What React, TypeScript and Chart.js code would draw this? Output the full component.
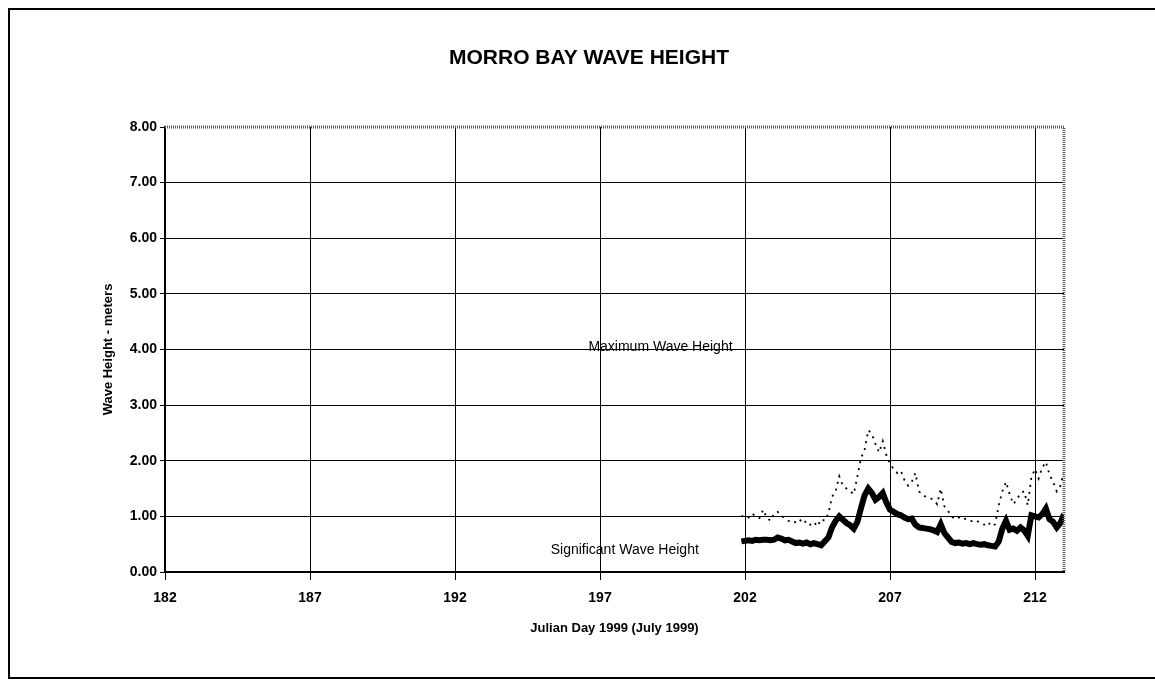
import React, { useEffect, useRef } from "react";
import { Chart, registerables } from "chart.js";

Chart.register(...registerables);

const TITLE = "MORRO BAY WAVE HEIGHT";
const X_TITLE = "Julian Day 1999 (July 1999)";
const Y_TITLE = "Wave Height - meters";
const MAX_LABEL = "Maximum Wave Height";
const SIG_LABEL = "Significant Wave Height";

const X_TICKS = [182, 187, 192, 197, 202, 207, 212];
const Y_TICKS = [0, 1, 2, 3, 4, 5, 6, 7, 8];

const days = [
  201.875,
  202, 202.125, 202.25, 202.375, 202.5, 202.625, 202.75, 202.875,
  203, 203.125, 203.25, 203.375, 203.5, 203.625, 203.75, 203.875,
  204, 204.125, 204.25, 204.375, 204.5, 204.625, 204.75, 204.875,
  205, 205.125, 205.25, 205.375, 205.5, 205.625, 205.75, 205.875,
  206, 206.125, 206.25, 206.375, 206.5, 206.625, 206.75, 206.875,
  207, 207.125, 207.25, 207.375, 207.5, 207.625, 207.75, 207.875,
  208, 208.125, 208.25, 208.375, 208.5, 208.625, 208.75, 208.875,
  209, 209.125, 209.25, 209.375, 209.5, 209.625, 209.75, 209.875,
  210, 210.125, 210.25, 210.375, 210.5, 210.625, 210.75, 210.875,
  211, 211.125, 211.25, 211.375, 211.5, 211.625, 211.75, 211.875,
  212, 212.125, 212.25, 212.375, 212.5, 212.625, 212.75, 212.875,
  213,
];

const significantHeight = [
  0.55,
  0.56, 0.57, 0.56, 0.58, 0.57, 0.58, 0.58, 0.57,
  0.58, 0.62, 0.6, 0.57, 0.58, 0.55, 0.52, 0.53,
  0.51, 0.53, 0.5, 0.52, 0.5, 0.48, 0.55, 0.62,
  0.8, 0.92, 1.0, 0.94, 0.88, 0.84, 0.78, 0.9,
  1.15, 1.38, 1.5, 1.42, 1.3, 1.35, 1.42, 1.25,
  1.12, 1.08, 1.04, 1.02, 0.98, 0.95, 0.96, 0.85,
  0.8, 0.79, 0.78, 0.77, 0.75, 0.72, 0.86, 0.7,
  0.62, 0.54, 0.52, 0.53, 0.51, 0.52, 0.5, 0.52,
  0.5, 0.49, 0.5, 0.48, 0.47, 0.46, 0.55, 0.78,
  0.92, 0.76, 0.78, 0.74, 0.8, 0.75, 0.65, 1.02,
  1.0, 0.98, 1.04, 1.14, 0.95, 0.9, 0.8, 0.88,
  1.04,
];

const maximumHeight = [
  1.0,
  1.02, 0.98, 1.05, 1.0, 0.97, 1.12, 0.98, 0.92,
  1.05, 1.08, 1.02, 0.96, 0.92, 0.88, 0.9, 0.95,
  0.87, 0.92, 0.85, 0.9, 0.82, 0.95, 0.92, 1.05,
  1.35, 1.45, 1.72, 1.55, 1.5, 1.45, 1.4, 1.72,
  2.05, 2.2, 2.55, 2.48, 2.3, 2.15, 2.35, 2.1,
  1.95, 1.85, 1.78, 1.82, 1.65, 1.55, 1.62, 1.78,
  1.45, 1.38, 1.35, 1.33, 1.3, 1.22, 1.5, 1.18,
  1.1, 1.0, 0.95, 0.98, 0.94, 0.96, 0.93, 0.9,
  0.92, 0.88, 0.85, 0.9, 0.82, 0.86, 1.2, 1.45,
  1.62, 1.4, 1.22, 1.3, 1.42, 1.45, 1.2, 1.7,
  1.85, 1.68, 1.88, 1.98, 1.75, 1.62, 1.45, 1.55,
  1.8,
];

// label anchor positions in data units
const MAX_LABEL_AT = { x: 196.6, y: 3.98 };
const SIG_LABEL_AT = { x: 195.3, y: 0.32 };

const FONT = '"Liberation Sans", Arial, Helvetica, sans-serif';

const decorPlugin = {
  id: "decor",
  beforeDraw(chart: any) {
    const { ctx, width, height } = chart;
    ctx.save();
    ctx.fillStyle = "#ffffff";
    ctx.fillRect(0, 0, width, height);
    ctx.restore();
  },
  afterDraw(chart: any) {
    const { ctx, chartArea, scales } = chart;
    const { left, top, right, bottom } = chartArea;
    ctx.save();
    // top / right plot border (grey hatched)
    ctx.strokeStyle = "#5a5a5a";
    ctx.lineWidth = 3;
    ctx.setLineDash([1, 1]);
    ctx.beginPath();
    ctx.moveTo(left, top);
    ctx.lineTo(right, top);
    ctx.lineTo(right, bottom);
    ctx.stroke();
    ctx.setLineDash([]);
    // outer frame
    ctx.strokeStyle = "#000";
    ctx.lineWidth = 2;
    ctx.beginPath();
    ctx.moveTo(1155, 9);
    ctx.lineTo(9, 9);
    ctx.lineTo(9, 678);
    ctx.lineTo(1155, 678);
    ctx.stroke();
    // title
    ctx.fillStyle = "#000";
    ctx.font = `bold 21px ${FONT}`;
    ctx.textAlign = "center";
    ctx.textBaseline = "alphabetic";
    ctx.fillText(TITLE, 589, 64);
    // series labels
    ctx.font = `14px ${FONT}`;
    ctx.textAlign = "left";
    const xs = scales.x;
    const ys = scales.y;
    ctx.fillText(MAX_LABEL, xs.getPixelForValue(MAX_LABEL_AT.x), ys.getPixelForValue(MAX_LABEL_AT.y));
    ctx.fillText(SIG_LABEL, xs.getPixelForValue(SIG_LABEL_AT.x), ys.getPixelForValue(SIG_LABEL_AT.y));
    ctx.restore();
  },
};

export default function App() {
  const canvasRef = useRef<HTMLCanvasElement | null>(null);

  useEffect(() => {
    const canvas = canvasRef.current;
    if (!canvas) return;
    const sigData = days.map((d, i) => ({ x: d, y: significantHeight[i] }));
    const maxData = days.map((d, i) => ({ x: d, y: maximumHeight[i] }));

    const chart = new Chart(canvas, {
      type: "line",
      data: {
        datasets: [
          {
            label: MAX_LABEL,
            data: maxData,
            borderColor: "#000",
            borderWidth: 1.8,
            borderDash: [2, 5],
            pointRadius: 0,
            fill: false,
            tension: 0,
          },
          {
            label: SIG_LABEL,
            data: sigData,
            borderColor: "#000",
            borderWidth: 6,
            pointRadius: 0,
            fill: false,
            tension: 0,
          },
        ],
      },
      options: {
        animation: false,
        responsive: false,
        devicePixelRatio: 1,
        layout: { padding: { left: 100, top: 127, right: 91, bottom: 0 } },
        plugins: {
          legend: { display: false },
          title: { display: false },
          tooltip: { enabled: false },
        },
        scales: {
          x: {
            type: "linear",
            min: 182,
            max: 213,
            afterBuildTicks: (scale: any) => {
              scale.ticks = X_TICKS.map((v) => ({ value: v }));
            },
            afterFit: (scale: any) => {
              scale.height = 108;
            },
            ticks: {
              color: "#000",
              font: { family: FONT, size: 14, weight: "bold" },
              padding: 10,
              maxRotation: 0,
              autoSkip: false,
              callback: (v: any) => String(v),
            },
            grid: {
              color: "#000",
              lineWidth: 1,
              tickLength: 8,
              tickColor: "#000",
            },
            border: { color: "#000", width: 2 },
            title: {
              display: true,
              text: X_TITLE,
              color: "#000",
              font: { family: FONT, size: 13, weight: "bold" },
              padding: { top: 0, bottom: 44 },
            },
          },
          y: {
            type: "linear",
            min: 0,
            max: 8,
            afterBuildTicks: (scale: any) => {
              scale.ticks = Y_TICKS.map((v) => ({ value: v }));
            },
            afterFit: (scale: any) => {
              scale.width = 65;
            },
            ticks: {
              color: "#000",
              font: { family: FONT, size: 14, weight: "bold" },
              padding: 3,
              callback: (v: any) => Number(v).toFixed(2),
            },
            grid: {
              color: (ctx: any) => (ctx.tick && ctx.tick.value === 8 ? "rgba(0,0,0,0)" : "#000"),
              lineWidth: 1,
              tickLength: 5,
              tickColor: "#000",
            },
            border: { color: "#000", width: 2 },
            title: {
              display: true,
              text: Y_TITLE,
              color: "#000",
              font: { family: FONT, size: 13, weight: "bold" },
              padding: { top: 1, bottom: 0 },
            },
          },
        },
      },
      plugins: [decorPlugin],
    } as any);

    return () => {
      chart.destroy();
    };
  }, []);

  return (
    <div style={{ position: "absolute", left: 0, top: 0, width: 1155, height: 680 }}>
      <canvas ref={canvasRef} width={1155} height={680} style={{ width: 1155, height: 680, display: "block" }} />
    </div>
  );
}
